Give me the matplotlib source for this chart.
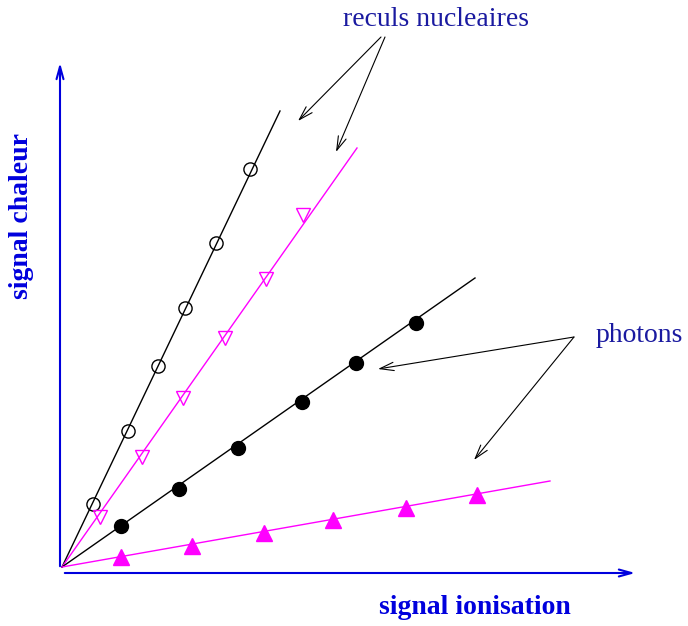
import matplotlib
matplotlib.use("Agg")
import matplotlib.pyplot as plt

plt.rcParams['font.family'] = ['Liberation Serif', 'DejaVu Serif']

# reculs nucleaires (open markers)
rec_circ_x = [31, 66, 96, 123, 154, 188]
rec_circ_y = [63, 136, 201, 259, 324, 398]
rec_circ_end = (218, 456)

rec_tri_x = [38, 80, 121, 163, 204, 241]
rec_tri_y = [50, 110, 169, 229, 288, 352]
rec_tri_end = (295, 419)

# photons (filled markers)
pho_circ_x = [59, 117, 176, 240, 294, 354]
pho_circ_y = [41, 78, 119, 165, 204, 244]
pho_circ_end = (413, 289)

pho_tri_x = [59, 130, 202, 271, 344, 415]
pho_tri_y = [10, 21, 34, 47, 59, 72]
pho_tri_end = (488, 86)

magenta = '#ff00ff'
navy = '#1a1aa0'
blue = '#0000dd'

fig = plt.figure(figsize=(6.88, 6.26), dpi=100)
ax = fig.add_axes([0, 0, 1, 1])
ax.set_xlim(-62, 626)
ax.set_ylim(-59, 567)
ax.axis('off')

# lines from origin
for end, col in [(rec_circ_end, 'black'), (rec_tri_end, magenta),
                 (pho_circ_end, 'black'), (pho_tri_end, magenta)]:
    ax.plot([0, end[0]], [0, end[1]], color=col, lw=1.0, zorder=2)

ax.plot(rec_circ_x, rec_circ_y, 'o', ms=9.5, mfc='none', mec='black', mew=1.0, ls='none', zorder=3)
ax.plot(rec_tri_x, rec_tri_y, 'v', ms=10.5, mfc='none', mec=magenta, mew=1.0, ls='none', zorder=3)
ax.plot(pho_circ_x, pho_circ_y, 'o', ms=10, mfc='black', mec='black', ls='none', zorder=3)
ax.plot(pho_tri_x, pho_tri_y, '^', ms=11, mfc=magenta, mec=magenta, ls='none', zorder=3)

# axes arrows
ax.annotate('', xy=(-2, 507), xytext=(-2, -2),
            arrowprops=dict(arrowstyle='->, head_length=0.9, head_width=0.25', color=blue, lw=1.5))
ax.annotate('', xy=(576, -6), xytext=(0, -6),
            arrowprops=dict(arrowstyle='->, head_length=0.9, head_width=0.25', color=blue, lw=1.5))

# pointer arrows
arr = dict(arrowstyle='->, head_length=1.0, head_width=0.3', color='black', lw=0.8,
           shrinkA=0, shrinkB=0)
ax.annotate('', xy=(236, 446), xytext=(319, 530), arrowprops=arr)
ax.annotate('', xy=(274, 415), xytext=(323, 530), arrowprops=arr)
ax.annotate('', xy=(316, 198), xytext=(512, 230), arrowprops=arr)
ax.annotate('', xy=(412, 107), xytext=(512, 230), arrowprops=arr)

ax.text(374, 547, 'reculs nucleaires', color=navy, fontsize=20, ha='center', va='center')
ax.text(577, 232, 'photons', color=navy, fontsize=20, ha='center', va='center')
ax.text(413, -41, 'signal ionisation', color=blue, fontsize=20, fontweight='bold',
        ha='center', va='center')
ax.text(-40, 351, 'signal chaleur', color=blue, fontsize=20, fontweight='bold',
        ha='center', va='center', rotation=90)

fig.savefig('out.png', dpi=100)
